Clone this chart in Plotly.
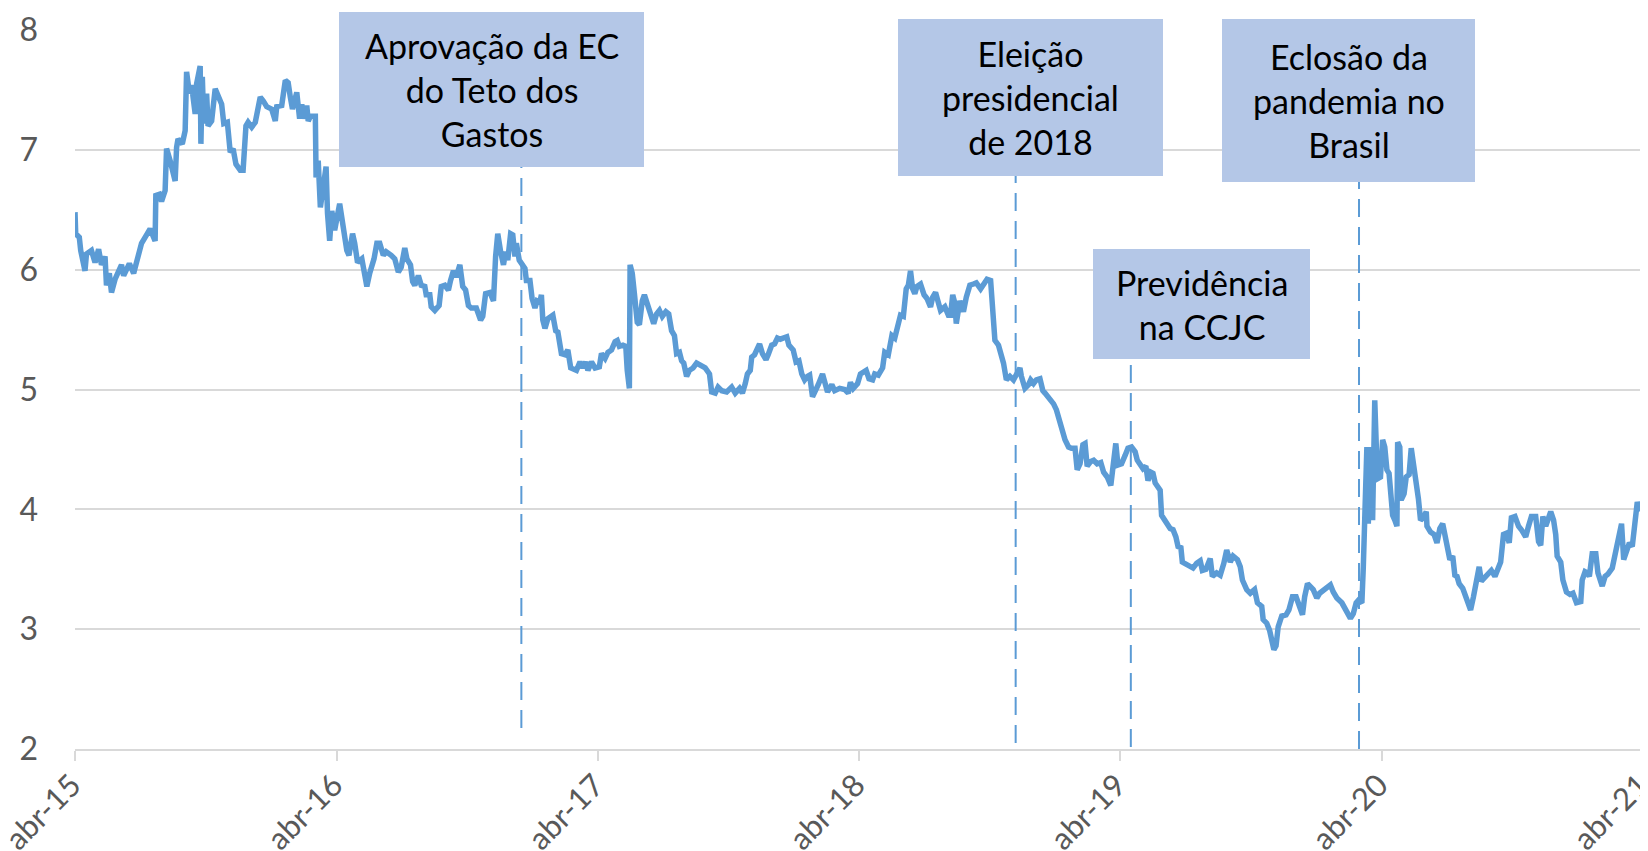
import pandas as pd
import plotly.graph_objects as go

# ---- data (days since 2015-04-01, value) ----
start_date = "2015-04-01"
days = [
    0, 1, 6, 8, 14, 16, 23, 28, 33, 37, 42, 44, 48, 51, 56, 65, 68, 76, 82, 89, 93, 98, 105, 112, 113, 118,
    121, 126, 128, 133, 140, 142, 144, 150, 154, 156, 160, 163, 168, 170, 175, 176, 178, 180, 184, 186, 191,
    196, 200, 205, 208, 213, 217, 221, 225, 231, 235, 239, 242, 247, 252, 254, 259, 263, 268, 275, 280, 282,
    289, 294, 298, 301, 304, 310, 314, 317, 320, 324, 326, 329, 336, 337, 340, 343, 347, 351, 353, 356, 359,
    363, 370, 374, 380, 383, 388, 391, 395, 401, 405, 408, 412, 418, 422, 426,
    431, 435, 442, 447, 452, 456, 461, 464, 469, 472, 475, 480, 484, 489, 491, 496, 498, 503, 509, 512, 517,
    522, 525, 529, 533, 538, 542, 546, 550, 554, 561, 567, 570, 574, 580, 585, 588, 591, 595, 599, 602, 605,
    609, 612, 615, 617, 621, 625, 629, 631, 636, 639, 643, 646, 650, 652, 654, 657, 661, 668, 672, 675, 680,
    685, 689, 693, 701, 706, 710, 714, 717, 722, 727, 733, 736, 741, 745, 750, 755, 758, 761, 766, 770, 772,
    775, 776, 779, 782, 786, 789, 793, 796, 801, 806, 809, 813, 817, 821, 826, 830, 834, 838, 841, 845, 848,
    851, 855, 859,
    864, 869, 876, 881, 887, 890, 895, 899, 904, 911, 918, 923, 929, 933, 937, 940, 944, 946, 950, 953, 957,
    961, 966, 969, 974, 978, 982, 986, 991, 995, 998, 1004, 1008, 1012, 1016, 1020, 1024, 1027, 1031, 1034,
    1039, 1045, 1048, 1052, 1058, 1062, 1069, 1076, 1081, 1084, 1088, 1094, 1098, 1102, 1106, 1110, 1115,
    1118, 1123, 1129, 1132, 1137, 1142, 1146, 1149, 1154, 1158, 1162, 1165, 1168, 1171, 1174, 1177, 1182,
    1187, 1191, 1196, 1199, 1203, 1207, 1210, 1216, 1221, 1224, 1227, 1230, 1232, 1237, 1242, 1246, 1251,
    1256, 1260, 1266, 1270, 1275, 1280, 1283, 1286, 1291,
    1298, 1302, 1307, 1312, 1316, 1321, 1323, 1328, 1333, 1336, 1340, 1344, 1349, 1353, 1356, 1361, 1365,
    1368, 1372, 1376, 1379, 1384, 1389, 1393, 1398, 1401, 1405, 1409, 1412, 1415, 1420, 1424, 1429, 1434,
    1438, 1443, 1448, 1451, 1455, 1458, 1463, 1468, 1472, 1477, 1482, 1485, 1489, 1493, 1497, 1500, 1504,
    1507, 1510, 1513, 1517, 1519, 1522, 1526, 1531, 1535, 1539, 1542, 1546, 1548, 1553, 1559, 1563, 1568,
    1573, 1576, 1581, 1587, 1590, 1596, 1601, 1606, 1610, 1615, 1619, 1625, 1629, 1632, 1638, 1643, 1649,
    1653, 1659, 1661, 1666, 1670, 1673, 1676, 1679, 1682, 1687, 1693, 1697, 1702, 1707, 1711, 1716, 1719, 1723,
    1731, 1736, 1740, 1747, 1752, 1755, 1759, 1764, 1771, 1775, 1780, 1783, 1787, 1791, 1794, 1799, 1801,
    1803, 1806, 1808, 1811, 1814, 1817, 1820, 1822, 1825, 1828, 1831, 1834, 1837, 1839, 1842, 1845, 1848,
    1849, 1852, 1854, 1858, 1861, 1865, 1868, 1872, 1875, 1878, 1881, 1885, 1889, 1890, 1895, 1900, 1904,
    1908, 1912, 1915, 1918, 1922, 1926, 1929, 1932, 1935, 1940, 1943, 1946, 1951, 1955, 1959, 1963, 1966,
    1971, 1976, 1980, 1985, 1990, 1993, 1997, 2001, 2005, 2008, 2013, 2018, 2022, 2028, 2032, 2036, 2042,
    2046, 2049, 2052, 2056, 2060, 2063, 2067, 2070, 2072, 2077, 2080, 2085, 2090, 2094, 2099, 2105, 2107,
    2111, 2114, 2117, 2121, 2126, 2129, 2133, 2135, 2139, 2143, 2149, 2154, 2159, 2162, 2165, 2169, 2173,
    2177, 2181, 2184, 2188, 2192,
]
values = [
    6.48, 6.30, 6.27, 6.16, 5.99, 6.13, 6.16, 6.06, 6.17, 6.04, 6.11, 5.87, 5.97, 5.81, 5.92, 6.04, 5.95, 6.05,
    5.97, 6.15, 6.22, 6.27, 6.34, 6.24, 6.62, 6.63, 6.57, 6.66, 7.01, 6.91, 6.74, 7.02, 7.09, 7.05, 7.16, 7.65,
    7.47, 7.54, 7.30, 7.55, 7.70, 7.05, 7.61, 7.22, 7.47, 7.20, 7.24, 7.51, 7.44, 7.38, 7.22, 7.23, 6.98, 7.01,
    6.88, 6.83, 6.83, 7.20, 7.23, 7.19, 7.23, 7.31, 7.44, 7.41, 7.36, 7.34, 7.24, 7.36, 7.37, 7.58, 7.56, 7.44,
    7.34, 7.48, 7.26, 7.38, 7.26, 7.37, 7.24, 7.28, 7.28, 6.77, 6.91, 6.52, 6.74, 6.86, 6.47, 6.24, 6.49, 6.33,
    6.55, 6.38, 6.16, 6.12, 6.30, 6.22, 6.06, 6.09, 5.97, 5.86, 5.97, 6.09, 6.22, 6.22,
    6.12, 6.15, 6.12, 6.09, 5.98, 6.02, 6.18, 6.09, 6.04, 5.90, 5.87, 5.95, 5.87, 5.86, 5.79, 5.79, 5.69, 5.66,
    5.70, 5.86, 5.87, 5.83, 5.91, 5.99, 5.94, 6.04, 5.86, 5.83, 5.70, 5.68, 5.68, 5.58, 5.61, 5.80, 5.81, 5.74,
    6.11, 6.30, 6.15, 6.04, 6.15, 6.08, 6.30, 6.29, 6.11, 6.22, 6.08, 6.04, 6.01, 5.91, 5.91, 5.76, 5.68, 5.74,
    5.73, 5.79, 5.58, 5.51, 5.59, 5.62, 5.49, 5.48, 5.30, 5.29, 5.33, 5.18, 5.16, 5.23, 5.18, 5.23, 5.16, 5.23,
    5.18, 5.19, 5.30, 5.26, 5.31, 5.33, 5.40, 5.41, 5.36, 5.37, 5.36, 5.16, 5.01, 6.04, 5.97, 5.80, 5.56, 5.54,
    5.74, 5.79, 5.70, 5.59, 5.55, 5.63, 5.66, 5.61, 5.65, 5.63, 5.49, 5.45, 5.30, 5.31, 5.24, 5.22, 5.11, 5.16,
    5.18, 5.22, 5.20, 5.18, 5.13, 4.98, 4.97, 5.02, 4.99, 4.98, 5.02, 4.97, 5.01, 4.97, 5.05, 5.13, 5.16, 5.27,
    5.29, 5.33, 5.38, 5.30, 5.25, 5.29, 5.37, 5.38, 5.43, 5.42, 5.43, 5.44, 5.37, 5.33, 5.23, 5.24, 5.13, 5.08,
    5.11, 5.12, 4.94, 4.97, 5.04, 5.13, 5.08, 4.98, 5.04, 4.99, 5.01, 5.00, 4.97, 5.06, 5.01, 5.05, 5.13, 5.15,
    5.16, 5.09, 5.08, 5.13, 5.12, 5.18, 5.31, 5.29, 5.45, 5.43, 5.52, 5.62, 5.61, 5.84, 5.87, 5.99, 5.84, 5.80,
    5.86, 5.88, 5.79, 5.76, 5.69, 5.77, 5.81, 5.70, 5.66, 5.69, 5.62, 5.62, 5.79, 5.72, 5.55, 5.74, 5.65, 5.77,
    5.87, 5.88, 5.89, 5.84, 5.87, 5.92, 5.91, 5.69, 5.41, 5.37,
    5.22, 5.08, 5.11, 5.08, 5.12, 5.18, 5.11, 5.01, 5.04, 5.08, 5.05, 5.08, 5.09, 4.99, 4.97, 4.93, 4.91, 4.88,
    4.83, 4.74, 4.65, 4.58, 4.52, 4.51, 4.51, 4.33, 4.38, 4.54, 4.55, 4.36, 4.40, 4.41, 4.38, 4.39, 4.31, 4.27,
    4.20, 4.38, 4.55, 4.37, 4.38, 4.45, 4.51, 4.52, 4.48, 4.41, 4.38, 4.34, 4.36, 4.24, 4.31, 4.30, 4.22, 4.19,
    4.16, 3.95, 3.92, 3.87, 3.84, 3.83, 3.77, 3.69, 3.68, 3.56, 3.54, 3.52, 3.51, 3.55, 3.57, 3.49, 3.50, 3.59,
    3.44, 3.47, 3.45, 3.55, 3.66, 3.56, 3.61, 3.58, 3.52, 3.41, 3.33, 3.30, 3.33, 3.22, 3.19, 3.08, 3.05, 2.99,
    2.90, 2.83, 2.86, 3.02, 3.11, 3.12, 3.16, 3.27, 3.27, 3.19, 3.12, 3.27, 3.38,
    3.33, 3.26, 3.30, 3.33, 3.36, 3.37, 3.31, 3.26, 3.22, 3.18, 3.13, 3.09, 3.13, 3.22, 3.24, 3.22, 3.52, 3.99,
    4.52, 3.88, 4.52, 3.91, 4.91, 4.38, 4.26, 4.27, 4.58, 4.52, 4.33, 4.30, 4.13, 3.95, 3.91, 3.86, 4.56, 4.52,
    4.08, 4.13, 4.27, 4.29, 4.51, 4.36, 4.27, 4.09, 3.91, 3.93, 3.98, 3.86, 3.81, 3.79, 3.72, 3.84, 3.88, 3.80,
    3.69, 3.58, 3.61, 3.45, 3.44, 3.38, 3.34, 3.29, 3.22, 3.16, 3.27, 3.43, 3.52, 3.40, 3.43, 3.47, 3.49, 3.44,
    3.52, 3.56, 3.79, 3.80, 3.72, 3.93, 3.94, 3.86, 3.83, 3.77, 3.86, 3.94, 3.94, 3.73, 3.70, 3.94, 3.86, 3.94,
    3.98, 3.91, 3.79, 3.61, 3.56, 3.41, 3.31, 3.29, 3.30, 3.22, 3.23, 3.41, 3.48, 3.47, 3.44, 3.63, 3.63, 3.47,
    3.41, 3.36, 3.44, 3.46, 3.51, 3.65, 3.77, 3.88, 3.58, 3.66, 3.72, 3.69, 3.94, 4.06, 3.99, 4.04,
]

tick_dates = ["2015-04-01", "2016-04-01", "2017-04-01", "2018-04-01", "2019-04-01", "2020-04-01", "2021-04-01"]
tick_labels = ["abr-15", "abr-16", "abr-17", "abr-18", "abr-19", "abr-20", "abr-21"]
y_ticks = [2, 3, 4, 5, 6, 7, 8]

event_dates = ["2016-12-15", "2018-11-06", "2019-04-16", "2020-02-29"]
event_texts = [
    "Aprovação da EC<br>do Teto dos<br>Gastos",
    "Eleição<br>presidencial<br>de 2018",
    "Previdência<br>na CCJC",
    "Eclosão da<br>pandemia no<br>Brasil",
]

dates = pd.Timestamp(start_date) + pd.to_timedelta(days, unit="D")

# ---- layout geometry (page pixels; the page body has an 8px margin) ----
OFF = 8
W, H = 1648 - OFF, 851 - OFF
PLOT_L, PLOT_R, PLOT_T, PLOT_B = 75, 1643, 30, 749
L, R, T, B = PLOT_L - OFF, 1648 - PLOT_R, PLOT_T - OFF, 851 - PLOT_B
PW, PH = PLOT_R - PLOT_L, PLOT_B - PLOT_T


def px(x):
    return (x - PLOT_L) / PW


def py(y):
    return (PLOT_B - y) / PH


# boxes: (x0, x1, y_top, y_bottom) in page pixels
boxes = [(339, 644, 12, 167), (898, 1163, 19, 176), (1093, 1310, 249, 359), (1222, 1475, 19, 182)]
# dashed lines: (y_top, y_bottom) in page pixels
vlines = [(167, 728), (176, 743), (359, 747), (182, 749)]

BLUE = "#5B9BD5"
GRID = "#D9D9D9"
FONT = "Lato"

fig = go.Figure()
fig.add_trace(go.Scatter(x=dates, y=values, mode="lines",
                         line=dict(color=BLUE, width=5.5), hoverinfo="skip", showlegend=False))

shapes = []
annotations = []
for (x0, x1, yt, yb), d, (lt, lb), txt in zip(boxes, event_dates, vlines, event_texts):
    shapes.append(dict(type="line", xref="x", yref="paper", x0=d, x1=d, y0=py(lb), y1=py(lt),
                       line=dict(color=BLUE, width=2, dash="18px,10px"), layer="above"))
    shapes.append(dict(type="rect", xref="paper", yref="paper", x0=px(x0), x1=px(x1), y0=py(yb), y1=py(yt),
                       fillcolor="#B4C7E7", line=dict(width=0), layer="above"))
    annotations.append(dict(xref="paper", yref="paper", x=px((x0 + x1) / 2), y=py((yt + yb) / 2),
                            text=txt, showarrow=False, xanchor="center", yanchor="middle", align="center",
                            font=dict(family=FONT, size=34, color="#000000")))

fig.update_layout(
    width=W, height=H,
    margin=dict(l=L, r=R, t=T, b=B, autoexpand=False),
    paper_bgcolor="white", plot_bgcolor="white",
    shapes=shapes, annotations=annotations,
    font=dict(family=FONT, color="#595959"),
    xaxis=dict(type="date", range=[tick_dates[0], tick_dates[-1]], tickvals=tick_dates, ticktext=tick_labels,
               tickangle=-45, showgrid=False, showline=True, linecolor=GRID, linewidth=1.5,
               ticks="outside", ticklen=10, tickcolor=GRID, tickwidth=1.5,
               ticklabeloverflow="allow", ticklabelshift=-3, ticklabelstandoff=-6,
               tickfont=dict(family=FONT, size=31, color="#595959"), automargin=False, zeroline=False),
    yaxis=dict(range=[2, 8], tickvals=y_ticks, showgrid=True, gridcolor=GRID, gridwidth=1.5,
               showline=False, zeroline=False, ticks="", ticklabelstandoff=36,
               tickfont=dict(family=FONT, size=32, color="#595959"), automargin=False),
)

fig.write_html("out.html")
